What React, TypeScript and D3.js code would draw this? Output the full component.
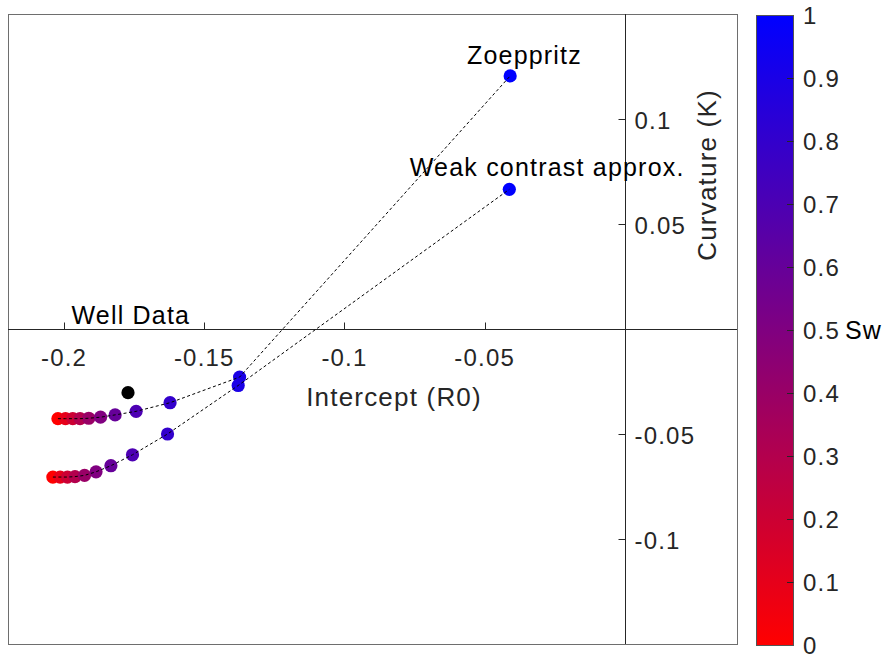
import React from "react";
import * as d3 from "d3";

// Well-data AVO attributes for increasing water saturation (Sw = 0 … 0.9),
// followed by the fully brine-saturated end member (Sw = 1).
const swLevels = [0, 0.1, 0.2, 0.3, 0.4, 0.5, 0.6, 0.7, 0.8, 0.9, 1.0];

const zoeppritzR0 = [-0.2022, -0.1995, -0.1969, -0.1943, -0.1912, -0.187, -0.1818, -0.1743, -0.1622, -0.1374, -0.0409];
const zoeppritzK = [-0.0427, -0.0427, -0.0427, -0.0427, -0.0425, -0.042, -0.0409, -0.0392, -0.0351, -0.0229, 0.1205];

const weakR0 = [-0.204, -0.2014, -0.1988, -0.1961, -0.1927, -0.1886, -0.1833, -0.1756, -0.1631, -0.1379, -0.0412];
const weakK = [-0.0705, -0.0705, -0.0705, -0.0703, -0.0697, -0.068, -0.0651, -0.0599, -0.05, -0.0269, 0.0665];

const wellPoint = { r0: -0.1772, k: -0.0303 };

const labels = [
  { text: "Zoeppritz", r0: -0.0358, k: 0.1262 },
  { text: "Weak contrast approx.", r0: -0.0277, k: 0.0727 },
  { text: "Well Data", r0: -0.1762, k: 0.0025 },
];

const xTicks = [-0.2, -0.15, -0.1, -0.05];
const yTicks = [-0.1, -0.05, 0.05, 0.1];
const cTicks = [0, 0.1, 0.2, 0.3, 0.4, 0.5, 0.6, 0.7, 0.8, 0.9, 1];

const W = 889;
const H = 657;
const box = { left: 8, right: 737, top: 14, bottom: 644 };
const cbar = { left: 756, right: 793, top: 15, bottom: 645 };

const FONT = "'Liberation Sans', Arial, Helvetica, sans-serif";
const AXIS = "#262626";

export default function App() {
  const x = d3.scaleLinear().domain([-0.22, 0.04]).range([box.left, box.right]);
  const y = d3.scaleLinear().domain([-0.15, 0.15]).range([box.bottom, box.top]);
  const c = d3.scaleLinear().domain([0, 1]).range([cbar.bottom, cbar.top]);
  const colour = d3.interpolateRgb("rgb(255,0,0)", "rgb(0,0,255)");

  const series = [
    { r0: zoeppritzR0, k: zoeppritzK },
    { r0: weakR0, k: weakK },
  ];

  const pathFor = (s: { r0: number[]; k: number[] }) =>
    d3
      .line<number>()
      .x((i) => x(s.r0[i]))
      .y((i) => y(s.k[i]))(s.r0.map((_, i) => i)) || "";

  const x0 = Math.round(x(0)) + 0.5;
  const y0 = Math.round(y(0)) + 0.5;

  return (
    <svg
      width={W}
      height={H}
      style={{ position: "absolute", left: 0, top: 0, background: "#fff" }}
      fontFamily={FONT}
    >
      <defs>
        <linearGradient id="swGrad" x1="0" y1="1" x2="0" y2="0">
          {d3.range(0, 1.0001, 0.1).map((t) => (
            <stop key={t} offset={t} stopColor={colour(t)} />
          ))}
        </linearGradient>
      </defs>

      {/* axes frame */}
      <rect
        x={box.left + 0.5}
        y={box.top + 0.5}
        width={box.right - box.left}
        height={box.bottom - box.top}
        fill="#fff"
        stroke="#6e6e6e"
        strokeWidth={1}
      />

      {/* origin axes */}
      <line x1={box.left} x2={box.right} y1={y0} y2={y0} stroke={AXIS} strokeWidth={1} />
      <line x1={x0} x2={x0} y1={box.top} y2={box.bottom} stroke={AXIS} strokeWidth={1} />

      {xTicks.map((t) => (
        <g key={"xt" + t}>
          <line x1={Math.round(x(t)) + 0.5} x2={Math.round(x(t)) + 0.5} y1={y0} y2={y0 - 7} stroke={AXIS} />
          <text
            x={x(t)}
            y={y0 + 36}
            textAnchor="middle"
            fontSize={24}
            letterSpacing={1.2}
            fill={AXIS}
          >
            {String(t)}
          </text>
        </g>
      ))}

      {yTicks.map((t) => (
        <g key={"yt" + t}>
          <line x1={x0} x2={x0 - 7} y1={Math.round(y(t)) + 0.5} y2={Math.round(y(t)) + 0.5} stroke={AXIS} />
          <text x={x0 + 9} y={y(t) + 10} fontSize={24} letterSpacing={1.2} fill={AXIS}>
            {String(t)}
          </text>
        </g>
      ))}

      <text
        x={394}
        y={y0 + 76}
        textAnchor="middle"
        fontSize={26}
        letterSpacing={1.2}
        fill={AXIS}
      >
        Intercept (R0)
      </text>
      <text
        transform={`translate(${716},${175}) rotate(-90)`}
        textAnchor="middle"
        fontSize={26}
        letterSpacing={1.2}
        fill={AXIS}
      >
        Curvature (K)
      </text>

      {/* markers coloured by water saturation */}
      {series.map((s, si) =>
        s.r0.map((r, i) => (
          <circle
            key={`m${si}-${i}`}
            cx={x(r)}
            cy={y(s.k[i])}
            r={6.6}
            fill={colour(swLevels[i])}
          />
        ))
      )}
      <circle cx={x(wellPoint.r0)} cy={y(wellPoint.k)} r={6.6} fill="#000" />

      {/* dashed connectors */}
      {series.map((s, si) => (
        <path
          key={"p" + si}
          d={pathFor(s)}
          fill="none"
          stroke="#000"
          strokeWidth={1}
          strokeDasharray="3,2.5"
        />
      ))}

      {labels.map((l) => (
        <text
          key={l.text}
          x={x(l.r0)}
          y={y(l.k)}
          textAnchor="middle"
          fontSize={25}
          letterSpacing={1.2}
          fill="#000"
        >
          {l.text}
        </text>
      ))}

      {/* colour bar */}
      <rect
        x={cbar.left + 0.5}
        y={cbar.top + 0.5}
        width={cbar.right - cbar.left}
        height={cbar.bottom - cbar.top}
        fill="url(#swGrad)"
        stroke="#555"
        strokeWidth={1}
      />
      {cTicks.map((t) => (
        <g key={"ct" + t}>
          {t > 0 && t < 1 && (
            <line
              x1={cbar.right + 0.5}
              x2={cbar.right - 6}
              y1={Math.round(c(t)) + 0.5}
              y2={Math.round(c(t)) + 0.5}
              stroke={AXIS}
            />
          )}
          <text x={cbar.right + 10} y={c(t) + 8.5} fontSize={24} letterSpacing={1.2} fill={AXIS}>
            {String(t)}
          </text>
        </g>
      ))}
      <text x={845} y={c(0.5) + 9} fontSize={25} letterSpacing={1.2} fill="#000">
        Sw
      </text>
    </svg>
  );
}
